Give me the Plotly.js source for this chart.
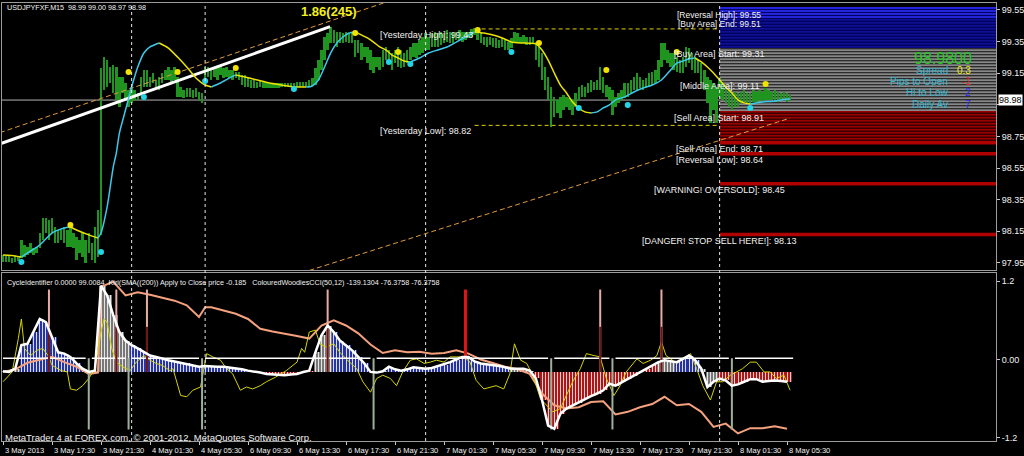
<!DOCTYPE html>
<html><head><meta charset="utf-8">
<script src="https://cdn.plot.ly/plotly-3.0.1.min.js"></script>
<style>html,body{margin:0;padding:0;background:#000;}#chart{width:1024px;height:456px;}</style>
</head><body><div id="chart"></div>
<script>
// ---------------- DATA ----------------
const symbolHeader = 'USDJPYFXF,M15  98.99 99.00 98.97 98.98';
const indicatorHeader = 'CycleIdentifier 0.0000 99.0084  Kiri(SMA((200)) Apply to Close price -0.185   ColouredWoodiesCCI(50,12) -139.1304 -76.3758 -76.3758';
const footerText = 'MetaTrader 4 at FOREX.com, \u00a9 2001-2012, MetaQuotes Software Corp.';
const tickBars = [0,16,32,48,64,80,96,112,128,144,160,176,192,208,224,240,256];
const tickLabels = ['3 May 2013','3 May 17:30','3 May 21:30','4 May 01:30','4 May 05:30','6 May 09:30','6 May 13:30','6 May 17:30','6 May 21:30','7 May 01:30','7 May 05:30','7 May 09:30','7 May 13:30','7 May 17:30','7 May 21:30','8 May 01:30','8 May 05:30'];
const separatorBars = [42,66,138,234];
const upperTicks = [97.95,98.15,98.35,98.55,98.75,98.95,99.15,99.35,99.55];
const lowerTicks = [-1.2,0,1.2];
const lowerTickText = ['-1.2','0.00','1.2'];

// M15 bars (bar index = position in array)
const barHigh = [
98.000,97.994,98.000,97.981,97.994,97.994, 98.095,98.063,98.051,98.076,98.044,98.051,
98.139,98.234,98.234,98.222,98.234,98.177, 98.158,98.158,98.177,98.158,98.177,98.139,
98.114,98.095,98.139,98.095,98.139,98.076, 98.177,98.285,99.183,99.252,99.233,99.189,
99.202,99.189,99.126,99.126,99.088,99.044, 99.063,99.044,99.025,99.126,99.170,99.170,
99.126,99.151,99.107,99.126,99.151,99.170, 99.189,99.170,99.189,99.126,99.063,99.044,
99.056,99.056,99.044,99.056,99.031,99.025, 99.189,99.189,99.170,99.189,99.189,99.202,
99.183,99.189,99.170,99.170,99.158,99.158, 99.139,99.139,99.120,99.107,99.107,99.094,
99.107,99.094,99.094,99.088,99.088,99.088, 99.088,99.088,99.088,99.088,99.088,99.088,
99.094,99.094,99.094,99.094,99.107,99.120, 99.183,99.233,99.297,99.379,99.404,99.442,
99.423,99.411,99.411,99.404,99.411,99.404, 99.404,99.360,99.360,99.341,99.316,99.316,
99.297,99.252,99.252,99.252,99.297,99.316, 99.297,99.278,99.297,99.316,99.297,99.278,
99.297,99.316,99.341,99.341,99.360,99.379, 99.404,99.379,99.404,99.411,99.404,99.411,
99.404,99.423,99.411,99.404,99.411,99.423, 99.411,99.411,99.411,99.430,99.436,99.423,
99.404,99.379,99.379,99.379,99.373,99.373, 99.360,99.373,99.360,99.347,99.373,99.411,
99.404,99.379,99.392,99.379,99.379,99.379, 99.347,99.316,99.278,99.189,99.126,99.063,
99.000,98.981,99.000,99.012,99.000,98.993, 98.981,99.025,99.063,99.075,99.063,99.088,
99.107,99.094,99.107,99.189,99.126,99.075, 99.063,99.044,99.000,99.025,99.044,99.088,
99.088,99.107,99.126,99.151,99.126,99.107, 99.120,99.151,99.158,99.170,99.233,99.341,
99.341,99.297,99.278,99.278,99.252,99.233, 99.252,99.316,99.309,99.278,99.252,99.233,
99.214,99.170,99.126,99.107,99.088,99.063, 99.120,99.088,99.063,99.044,99.025,99.031,
99.025,99.031,99.044,99.025,99.025,99.044, 99.031,99.044,99.031,99.056,99.044,99.031,
99.044,99.031,99.025,99.031,99.025,99.012];
const barLow = [
97.956,97.956,97.956,97.949,97.956,97.962, 97.981,97.987,98.000,98.013,98.000,98.013,
98.044,98.095,98.139,98.095,98.139,98.076, 98.076,98.095,98.076,98.051,98.051,98.044,
97.968,98.013,97.987,97.949,98.013,97.968, 97.949,97.987,98.127,99.044,99.063,99.088,
99.025,98.981,98.936,99.025,98.981,98.936, 98.962,98.981,98.981,99.025,99.063,99.063,
99.063,99.088,99.063,99.044,99.088,99.107, 99.107,99.088,99.107,99.000,99.000,98.993,
99.000,99.000,98.993,99.000,98.981,98.962, 99.088,99.126,99.107,99.126,99.107,99.139,
99.120,99.126,99.120,99.107,99.120,99.107, 99.075,99.063,99.063,99.056,99.056,99.056,
99.063,99.056,99.056,99.056,99.056,99.056, 99.056,99.063,99.063,99.063,99.063,99.063,
99.063,99.063,99.063,99.063,99.069,99.069, 99.075,99.107,99.170,99.233,99.297,99.341,
99.341,99.316,99.341,99.341,99.347,99.341, 99.341,99.252,99.278,99.233,99.252,99.214,
99.170,99.151,99.189,99.170,99.189,99.233, 99.214,99.170,99.214,99.189,99.183,99.189,
99.214,99.233,99.252,99.246,99.265,99.278, 99.297,99.297,99.316,99.316,99.316,99.328,
99.341,99.347,99.341,99.341,99.360,99.360, 99.347,99.360,99.373,99.379,99.392,99.360,
99.341,99.328,99.316,99.328,99.316,99.309, 99.309,99.316,99.297,99.297,99.309,99.341,
99.341,99.341,99.341,99.328,99.328,99.341, 99.233,99.189,99.107,99.044,98.981,98.810,
98.873,98.898,98.867,98.917,98.936,98.917, 98.886,98.936,98.981,99.000,99.000,99.025,
99.031,99.044,99.044,99.044,99.025,99.000, 98.981,98.886,98.936,98.962,98.981,98.993,
99.000,99.025,99.044,99.044,99.056,99.044, 99.056,99.063,99.075,99.088,99.107,99.189,
99.233,99.214,99.189,99.170,99.158,99.151, 99.151,99.189,99.214,99.170,99.151,99.151,
99.088,99.044,98.962,98.835,98.917,98.835, 99.000,98.981,98.962,98.936,98.917,98.936,
98.936,98.962,98.968,98.962,98.962,98.968, 98.968,98.981,98.968,98.981,98.981,98.981,
98.981,98.968,98.981,98.981,98.968,98.974];

// smoothed moving average (cyan when rising, yellow when falling)
const maBars = [0,4,6,8,12,16,20,22,24,28,31,32,34,36,37,38,40,42,44,46,48,51,54,57,60,63,66,68,71,74,76,79,83,87,91,95,99,101,103,105,107,109,111,113,115,117,119,121,123,125,127,129,131,133,136,139,142,145,148,151,154,157,160,163,166,169,172,174,176,178,180,182,184,186,188,190,192,194,196,198,200,203,206,209,212,215,218,220,222,224,226,228,230,232,234,236,238,240,242,244,246,248,250,252,254,257];
const maValues = [98.000,97.994,97.987,98.013,98.063,98.139,98.171,98.177,98.158,98.127,
98.107,98.139,98.304,98.557,98.645,98.771,98.917,99.063,99.189,99.278,
99.316,99.341,99.309,99.252,99.189,99.120,99.075,99.063,99.088,99.120,
99.139,99.126,99.107,99.088,99.075,99.063,99.062,99.069,99.107,99.189,
99.278,99.341,99.379,99.404,99.411,99.392,99.373,99.347,99.316,99.297,
99.265,99.246,99.227,99.221,99.246,99.278,99.297,99.316,99.347,99.379,
99.411,99.404,99.392,99.373,99.347,99.341,99.340,99.335,99.297,99.233,
99.151,99.075,99.025,98.968,98.930,98.905,98.898,98.905,98.930,98.949,
98.981,99.000,99.031,99.056,99.075,99.107,99.170,99.214,99.227,99.240,
99.246,99.221,99.189,99.151,99.107,99.063,99.025,98.981,98.962,98.955,
98.962,98.968,98.971,98.974,98.981,98.987];
const peakDotBars = [22,41,57,76,115,129,155,175,197,220,249];
const peakDotValues = [98.190,99.158,99.158,99.183,99.404,99.284,99.423,99.341,99.170,99.284,99.082];
const troughDotBars = [6,32,46,66,95,126,133,166,188,204,244];
const troughDotValues = [97.956,98.019,99.000,99.101,99.050,99.221,99.208,99.284,98.930,98.949,98.930];

const trendBars = [-0.42,106.8];
const trendValues = [98.707,99.444];
const trendLabel = '1.86(245)';
const channelUpperBars = [-1,125];
const channelUpperValues = [98.774,99.599];
const channelLowerBars = [100,257];
const channelLowerValues = [97.902,98.866];
const yesterdayBars = [154,234];
const yesterdayHigh = 99.43;
const yesterdayLow = 98.82;
const bidPrice = 98.98;

const levelNames = ['[Reversal High]','[Buy Area] End','[Buy Area] Start','[Middle Area]','[Sell Area] Start','[Sell Area] End','[Reversal Low]','[WARNING! OVERSOLD]','[DANGER! STOP SELL HERE!]'];
const levelValues = [99.55,99.51,99.31,99.11,98.91,98.71,98.64,98.45,98.13];
const zoneStartBar = 234;

const bigPrice = '98.9800';
const statsLabels = ['Spread','Pips to Open','Hi to Low','Daily Av'];
const statsValues = ['0.3','-1','2','7'];

// lower window
const cciValues = [-0.18,-0.19,-0.14,0.22,0.24,0.42,0.62,0.57,0.34,0.11,
0.09,0.04,-0.06,-0.14,-0.19,-0.17,1.13,0.98,0.68,0.42,
0.29,0.22,0.17,0.11,0.06,0.04,0.01,-0.01,-0.03,-0.05,
-0.06,-0.09,-0.11,-0.10,-0.11,-0.11,-0.11,-0.12,-0.13,-0.15,
-0.17,-0.18,-0.20,-0.22,-0.23,-0.24,-0.24,-0.23,-0.22,-0.19,
-0.17,0.11,0.37,0.52,0.42,0.29,0.22,0.14,0.04,-0.06,
-0.19,-0.20,-0.18,-0.11,-0.15,-0.17,-0.15,-0.12,-0.13,-0.14,
-0.13,-0.10,-0.08,-0.04,0.00,0.04,0.04,-0.03,-0.06,-0.07,
-0.09,-0.10,-0.12,-0.14,-0.14,-0.14,-0.17,-0.29,-0.62,-1.01,
-1.06,-0.83,-0.75,-0.70,-0.66,-0.61,-0.56,-0.52,-0.47,-0.37,
-0.40,-0.35,-0.30,-0.25,-0.19,-0.14,-0.09,-0.04,-0.01,-0.03,
-0.04,0.01,0.06,-0.01,-0.14,-0.42,-0.34,-0.29,-0.32,-0.40,
-0.38,-0.34,-0.30,-0.30,-0.34,-0.33,-0.32,-0.33,-0.34]; // every 2nd bar
const cciStep = 2;
const cciBase = -0.19;
const histSegments = [[0,4,'g'],[6,26,'b'],[28,40,'g'],[42,84,'b'],[86,100,'r'],[102,106,'g'],[108,118,'b'],[120,124,'g'],[126,164,'b'],[166,172,'g'],[174,212,'r'],[214,218,'g'],[220,226,'b'],[228,232,'g'],[234,256,'r']];
const salmonBars = [0,4,8,12,16,20,24,28,31,32,36,40,44,48,52,56,60,64,66,68,72,76,80,84,88,92,96,100,104,108,112,116,120,124,128,132,136,140,144,148,152,156,160,164,168,172,176,180,184,188,192,196,200,204,208,212,216,220,224,228,232,236,240,244,248,252,256];
const salmonValues = [-0.19,-0.15,-0.05,0.00,0.04,-0.04,-0.11,-0.22,-0.20,1.11,
1.19,0.98,1.03,0.99,0.95,0.90,0.83,0.65,0.80,0.80,
0.75,0.70,0.62,0.47,0.43,0.40,0.36,0.32,0.52,0.60,
0.52,0.40,0.23,0.10,0.14,0.11,0.12,0.09,0.10,0.14,
0.09,0.00,-0.06,-0.11,-0.15,-0.22,-0.52,-0.70,-0.75,-0.73,
-0.65,-0.64,-0.84,-0.80,-0.73,-0.68,-0.57,-0.70,-0.68,-0.80,
-1.03,-0.98,-1.13,-1.05,-1.05,-1.02,-1.06];
const yellowBars = [0,1,3,5,6,7,9,11,13,15,16,19,21,22,24,26,28,30,32,33,34,35.5,37,39,41.5,43.5,46,48,50,52,54.5,55.5,58,60,62,64.5,66.5,68.5,71,73,75,77.5,79.5,81.5,84,86,89,92.5,96,97.5,98.5,100,102,103.5,105.5,108,110,112,115.5,117.5,120,122,124,126.5,128.5,130.5,133,135,137.5,139.5,141.5,144,146,148,150.5,152.5,154.5,157,159,161,163.5,165.5,167,169,171,173,175.5,177.5,179.5,182,184,186,188.5,190.5,193,195,197,199.5,201.5,203.5,207,209,211.5,213.5,215,216.5,220,222,224.5,226.5,228.5,231,233,235,237.5,239.5,241.5,244,246,248.5,250.5,252.5,255,257];
const yellowValues = [-0.34,-0.29,-0.19,0.32,0.62,0.17,0.06,0.14,0.17,0.04,
-0.09,-0.17,-0.19,-0.45,-0.47,-0.40,-0.29,-0.14,0.42,0.62,
0.57,0.17,-0.04,-0.11,-0.17,-0.04,0.06,-0.01,-0.06,-0.09,
-0.17,-0.14,-0.55,-0.57,-0.47,-0.42,0.09,0.04,-0.01,-0.14,
-0.22,-0.47,-0.42,-0.45,-0.40,-0.34,-0.27,-0.17,-0.04,0.17,
0.11,0.42,0.45,0.24,0.19,0.24,0.11,0.01,-0.14,-0.34,
-0.50,-0.29,-0.24,-0.29,-0.40,-0.19,-0.01,0.01,-0.06,-0.04,
-0.01,-0.04,0.04,0.04,0.04,-0.04,-0.32,-0.45,-0.42,-0.40,
-0.45,-0.22,0.24,-0.01,-0.06,-0.24,-0.60,-0.70,-0.80,-0.75,
-0.55,-0.34,-0.14,0.09,0.06,0.04,-0.29,-0.55,-0.40,-0.19,
0.01,-0.06,-0.01,0.06,0.27,0.06,-0.06,0.01,0.09,-0.14,
-0.40,-0.62,-0.34,-0.34,-0.24,-0.19,-0.14,-0.04,-0.04,-0.19,
-0.19,-0.29,-0.24,-0.47];
const cycleLevel = 0.02;
const cycleStartBar = 0, cycleEndBar = 258;
const cycleDownBars = [28,41,65,121,179,199,238];
const cycleDownValue = -1.07;
const cycleUpBars = [15,37,47,106,151,195,215];
const cycleUpValue = 1.07;
const cycleUpStrong = [151];

// ---------------- GEOMETRY / STYLE ----------------
const W = 1024, H = 456, M = {l:2, r:28, t:3, b:15};
const xRange = [-0.33, 324.24];
const yRangeTop = [97.905, 99.594];
const yRangeLow = [-1.246, 1.323];
const xp = px => (px - M.l) / (W - M.l - M.r);
const yp = py => (H - M.b - py) / (H - M.t - M.b);
const FONT = 'Liberation Sans, Arial, sans-serif';
const WHITE = '#f2f2f2';

const traces = [];
const shapes = [];
const ann = [];

// ---- upper: zones (shapes below traces)
const xEnd = xRange[1];
function band(y0, y1, fill) {
  shapes.push({type:'rect', xref:'x', yref:'y', x0:zoneStartBar, x1:xEnd, y0:y0, y1:y1, fillcolor:fill, line:{width:0}, layer:'below'});
}
function stripes(y0, y1, color, width) {
  for (let v = y0 + 0.006; v < y1; v += 0.019) {
    shapes.push({type:'line', xref:'x', yref:'y', x0:zoneStartBar, x1:xEnd, y0:v, y1:v, line:{color:color, width:width}, layer:'below'});
  }
}
const topBand = levelValues[0] + 0.015;
band(levelValues[2], topBand, '#00005e');
stripes(levelValues[2], levelValues[1] - 0.01, '#1414a4', 1.2);
stripes(levelValues[1] - 0.01, topBand, '#2424d8', 2);
band(levelValues[4], levelValues[2], '#2c2c2c');
stripes(levelValues[4], levelValues[2], '#a6a6a6', 1.3);
band(levelValues[5], levelValues[4], '#3c0000');
stripes(levelValues[5], levelValues[4], '#9a0000', 1.5);
[5,6,7,8].forEach(i => shapes.push({type:'line', xref:'x', yref:'y', x0:zoneStartBar, x1:xEnd, y0:levelValues[i], y1:levelValues[i], line:{color:'#b00000', width:3.5}, layer:'below'}));

// bid line, yesterday lines, separators
shapes.push({type:'line', xref:'paper', yref:'y', x0:0, x1:1, y0:bidPrice, y1:bidPrice, line:{color:'#b4b4b4', width:1}, layer:'below'});
[yesterdayHigh, yesterdayLow].forEach(v => shapes.push({type:'line', xref:'x', yref:'y', x0:yesterdayBars[0], x1:yesterdayBars[1], y0:v, y1:v, line:{color:'#e0d000', width:1, dash:'4px,3px'}}));
separatorBars.forEach(k => shapes.push({type:'line', xref:'x', yref:'paper', x0:k, x1:k, y0:0, y1:1, line:{color:'#e6e6e6', width:1, dash:'3px,3px'}}));

// ---- upper traces
traces.push({type:'bar', x: barHigh.map((_, i) => i), base: barLow, y: barHigh.map((h, i) => +(h - barLow[i]).toFixed(3)),
  width: 0.8, marker:{color:'#1f951f', line:{width:0}}, xaxis:'x', yaxis:'y', hoverinfo:'skip'});
traces.push({type:'scatter', mode:'lines', x: channelUpperBars, y: channelUpperValues, line:{color:'#e09a3a', width:1, dash:'5px,3px'}, xaxis:'x', yaxis:'y'});
traces.push({type:'scatter', mode:'lines', x: channelLowerBars, y: channelLowerValues, line:{color:'#e09a3a', width:1, dash:'5px,3px'}, xaxis:'x', yaxis:'y'});
traces.push({type:'scatter', mode:'lines', x: trendBars, y: trendValues, line:{color:'#ffffff', width:3}, xaxis:'x', yaxis:'y'});

// split MA into rising / falling runs
const up = {x:[], y:[]}, dn = {x:[], y:[]};
let prev = null;
for (let i = 0; i < maBars.length - 1; i++) {
  const rising = maValues[i+1] > maValues[i];
  const t = rising ? up : dn;
  if (prev !== rising) { if (t.x.length) { t.x.push(null); t.y.push(null); } t.x.push(maBars[i]); t.y.push(maValues[i]); }
  t.x.push(maBars[i+1]); t.y.push(maValues[i+1]);
  prev = rising;
}
traces.push({type:'scatter', mode:'lines', x: dn.x, y: dn.y, line:{color:'#ece400', width:1.5, shape:'spline', smoothing:0.6}, connectgaps:false, xaxis:'x', yaxis:'y'});
traces.push({type:'scatter', mode:'lines', x: up.x, y: up.y, line:{color:'#3cc8ea', width:1.5, shape:'spline', smoothing:0.6}, connectgaps:false, xaxis:'x', yaxis:'y'});
traces.push({type:'scatter', mode:'markers', x: peakDotBars, y: peakDotValues, marker:{color:'#f2e200', size:6}, xaxis:'x', yaxis:'y'});
traces.push({type:'scatter', mode:'markers', x: troughDotBars, y: troughDotValues, marker:{color:'#22d4e6', size:6}, xaxis:'x', yaxis:'y'});

// ---- lower traces
const cciX = cciValues.map((_, i) => i * cciStep);
function stateOf(k) { for (const s of histSegments) if (k >= s[0] && k <= s[1]) return s[2]; return 'g'; }
const fillMap = {b:'#27349c', g:'#787878', r:'#a81818'};
const stripeMap = {b:'#d6d8ff', g:'#e6e6e6', r:'#ffcaca'};
const hy = cciValues.map(v => +(v - cciBase).toFixed(3));
traces.push({type:'bar', x: cciX, base: cciBase, y: hy, width: 2, offset: -0.5, marker:{color: cciX.map(k => fillMap[stateOf(k)]), line:{width:0}}, xaxis:'x2', yaxis:'y2'});
traces.push({type:'bar', x: cciX, base: cciBase, y: hy, width: 0.33, offset: -0.165, marker:{color: cciX.map(k => stripeMap[stateOf(k)]), line:{width:0}}, xaxis:'x2', yaxis:'y2'});
traces.push({type:'bar', x: cciX, base: cciBase, y: hy, width: 0.33, offset: 0.835, marker:{color: cciX.map(k => stripeMap[stateOf(k)]), line:{width:0}}, xaxis:'x2', yaxis:'y2'});
traces.push({type:'scatter', mode:'lines', x: salmonBars, y: salmonValues, line:{color:'#f4a17e', width:2}, xaxis:'x2', yaxis:'y2'});
traces.push({type:'scatter', mode:'lines', x: yellowBars, y: yellowValues, line:{color:'#d4d400', width:1}, xaxis:'x2', yaxis:'y2'});
// cycle identifier step line with gaps at down signals
const cx = [cycleStartBar], cy = [cycleLevel];
cycleDownBars.forEach(k => { cx.push(k - 1, null, k + 1); cy.push(cycleLevel, null, cycleLevel); });
cx.push(cycleEndBar); cy.push(cycleLevel);
traces.push({type:'scatter', mode:'lines', x: cx, y: cy, line:{color:'#ffffff', width:1.5}, xaxis:'x2', yaxis:'y2'});
const dX = [], dY = [];
cycleDownBars.forEach(k => { dX.push(k, k, null); dY.push(cycleLevel, cycleDownValue, null); });
traces.push({type:'scatter', mode:'lines', x: dX, y: dY, line:{color:'#9db09d', width:2}, xaxis:'x2', yaxis:'y2'});
const uX = [], uY = [], uX2 = [], uY2 = [], sX = [], sY = [];
cycleUpBars.forEach(k => {
  if (cycleUpStrong.includes(k)) { sX.push(k, k, null); sY.push(cycleLevel, cycleUpValue, null); }
  else { uX.push(k, k, null); uY.push(cciBase, cycleUpValue, null); uX2.push(k, k, null); uY2.push(cciBase, 0.5, null); }
});
traces.push({type:'scatter', mode:'lines', x: uX, y: uY, line:{color:'#e8aca4', width:2}, xaxis:'x2', yaxis:'y2'});
traces.push({type:'scatter', mode:'lines', x: uX2, y: uY2, line:{color:'#6e1414', width:2}, xaxis:'x2', yaxis:'y2'});
traces.push({type:'scatter', mode:'lines', x: sX, y: sY, line:{color:'#e01414', width:3}, xaxis:'x2', yaxis:'y2'});
traces.push({type:'scatter', mode:'lines', x: cciX, y: cciValues, line:{color:'#ffffff', width:2.5}, xaxis:'x2', yaxis:'y2'});

// ---- annotations
const txt = (text, x, y, o) => Object.assign({xref:'paper', yref:'paper', x:x, y:y, text:text, showarrow:false, xanchor:'left', yanchor:'middle', font:{family:FONT, size:9, color:WHITE}}, o || {});
ann.push(txt(symbolHeader, xp(5), yp(8), {font:{family:FONT, size:7.2, color:WHITE}}));
ann.push(txt('<b>' + trendLabel + '</b>', xp(329), yp(12), {xanchor:'center', font:{family:FONT, size:13, color:'#f4f01c'}}));
const levelShift = [-5, -8, -6.5, -6.5, -6.5, -6.5, -6.5, -6.5, -6.5];
levelNames.forEach((n, i) => ann.push({xref:'paper', yref:'y', x:xp(719), y:levelValues[i], yshift:levelShift[i], text:n + ': ' + levelValues[i].toFixed(2), showarrow:false, xanchor:'center', yanchor:'middle', font:{family:FONT, size:(i < 2 ? 8.5 : 9), color:WHITE}}));
ann.push({xref:'paper', yref:'y', x:xp(378), y:yesterdayHigh, yshift:-6, text:'[Yesterday High]: ' + yesterdayHigh.toFixed(2), showarrow:false, xanchor:'left', yanchor:'middle', font:{family:FONT, size:9, color:WHITE}});
ann.push({xref:'paper', yref:'y', x:xp(378), y:yesterdayLow, yshift:-6, text:'[Yesterday Low]: ' + yesterdayLow.toFixed(2), showarrow:false, xanchor:'left', yanchor:'middle', font:{family:FONT, size:9, color:WHITE}});
ann.push(txt(bigPrice, xp(943), yp(58), {xanchor:'center', font:{family:FONT, size:16, color:'#22c422'}}));
const statColors = ['#eeee10','#e01c1c','#2828f0','#2828f0'];
statsLabels.forEach((s, i) => {
  const py = 70 + i * 11.4;
  ann.push(txt(s, xp(950), yp(py), {xanchor:'right', font:{family:FONT, size:10, color:'#32b6cf'}}));
  ann.push(txt(statsValues[i], xp(973), yp(py), {xanchor:'right', font:{family:FONT, size:10, color:statColors[i]}}));
});
ann.push({xref:'paper', yref:'y', x:1, xshift:2, y:bidPrice, text:bidPrice.toFixed(2), showarrow:false, xanchor:'left', yanchor:'middle', bgcolor:'#ffffff', borderpad:0, font:{family:FONT, size:9, color:'#000000'}});
ann.push(txt(indicatorHeader, xp(5), yp(282), {font:{family:FONT, size:7.2, color:WHITE}}));
ann.push(txt(footerText, xp(3), yp(437), {font:{family:FONT, size:9.5, color:WHITE}}));
tickBars.forEach((k, i) => ann.push({xref:'x2', yref:'paper', x:k, y:0, yshift:-3, text:tickLabels[i], showarrow:false, xanchor:'left', yanchor:'top', font:{family:FONT, size:7.5, color:WHITE}}));

const axisLine = '#9c9c9c';
const tickFont = {family:FONT, size:9, color:WHITE};
// the 98.95 label sits under the bid-price box in the reference
const upperTickText = upperTicks.map(v => (Math.abs(v - bidPrice) < 0.05 ? '' : v.toFixed(2)));
const layout = {
  width:W, height:H, margin:{l:M.l, r:M.r, t:M.t, b:M.b, pad:0},
  paper_bgcolor:'#000000', plot_bgcolor:'#000000', showlegend:false, barmode:'overlay', bargap:0, hovermode:false,
  xaxis:{domain:[0,1], range:xRange, anchor:'y', showgrid:false, zeroline:false, showticklabels:false, ticks:'', showline:true, mirror:true, linecolor:axisLine, linewidth:1},
  yaxis:{domain:[yp(270), 1], range:yRangeTop, side:'right', anchor:'x', showgrid:false, zeroline:false, tickvals:upperTicks, ticktext:upperTickText, ticks:'outside', ticklen:3, tickcolor:'#c8c8c8', tickfont:tickFont, showline:true, mirror:true, linecolor:axisLine, linewidth:1},
  xaxis2:{domain:[0,1], range:xRange, anchor:'y2', showgrid:false, zeroline:false, tickvals:tickBars, showticklabels:false, ticks:'outside', ticklen:3, tickcolor:'#c8c8c8', showline:true, mirror:true, linecolor:axisLine, linewidth:1},
  yaxis2:{domain:[0, yp(273)], range:yRangeLow, side:'right', anchor:'x2', showgrid:false, zeroline:false, tickvals:lowerTicks, ticktext:lowerTickText, ticks:'outside', ticklen:3, tickcolor:'#c8c8c8', tickfont:tickFont, showline:true, mirror:true, linecolor:axisLine, linewidth:1},
  shapes:shapes, annotations:ann
};
Plotly.newPlot('chart', traces, layout, {staticPlot:true, displayModeBar:false});
</script>
</body></html>
